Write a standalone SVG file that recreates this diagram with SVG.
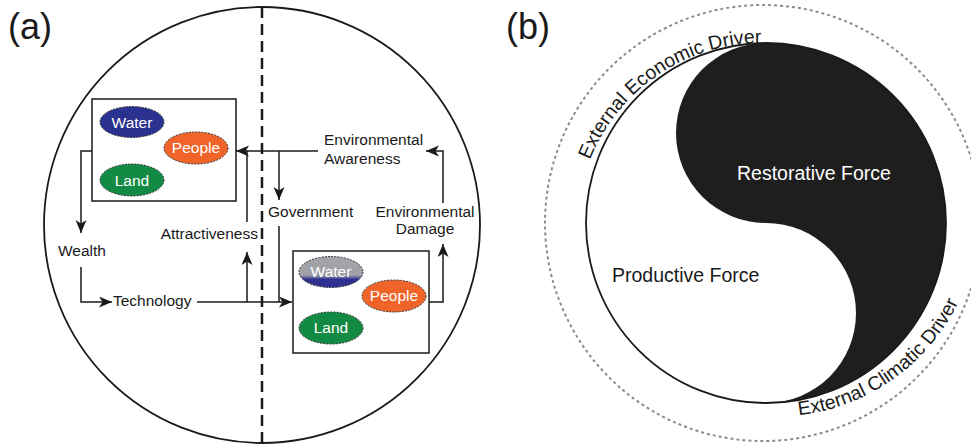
<svg xmlns="http://www.w3.org/2000/svg" width="971" height="445" viewBox="0 0 971 445">
<style>
text{font-family:"Liberation Sans",Arial,sans-serif;fill:#1a1a1a}
.lbl{font-size:15.5px}
.in{font-size:15.5px;fill:#fff;text-anchor:middle}
.big{font-size:19.5px}
.panel{font-size:36px}
.box{fill:#fff;stroke:#1a1a1a;stroke-width:1.5}
.ell{stroke:#333;stroke-width:1;stroke-dasharray:2 1.2}
.con{fill:none;stroke:#1a1a1a;stroke-width:1.5}
</style>
<defs>
<marker id="ah" markerUnits="userSpaceOnUse" markerWidth="14" markerHeight="12" refX="13" refY="5.5" orient="auto">
<path d="M0,0 L13,5.5 L0,11 L3.5,5.5 Z" fill="#1a1a1a"/>
</marker>
<linearGradient id="wg" x1="0" y1="0" x2="0" y2="1">
<stop offset="0" stop-color="#a4a4aa"/>
<stop offset="0.6" stop-color="#a0a0a8"/>
<stop offset="0.74" stop-color="#2e3192"/>
<stop offset="1" stop-color="#2e3192"/>
</linearGradient>
<path id="arcTop" d="M590,159.9 A185 185 0 0 1 825.3,54.2"/>
<path id="arcBot" d="M798.9,415.2 A202.5 202.5 0 0 0 975.4,249.2"/>
</defs>

<!-- Panel (a) -->
<g id="panel-a">
<text class="panel" x="8" y="39">(a)</text>
<circle cx="262" cy="225" r="218" fill="none" stroke="#1a1a1a" stroke-width="1.8"/>
<line x1="262" y1="7" x2="262" y2="443" stroke="#1a1a1a" stroke-width="2.5" stroke-dasharray="11 6"/>
</g>

<g id="connectors">
<path class="con" d="M92,151 H81 V233" marker-end="url(#ah)"/>
<path class="con" d="M81,267 V302 H112" marker-end="url(#ah)"/>
<path class="con" d="M197,302 H292" marker-end="url(#ah)"/>
<path class="con" d="M247,302 V252" marker-end="url(#ah)"/>
<path class="con" d="M318,151 H236" marker-end="url(#ah)"/>
<path class="con" d="M247,222 V151"/>
<path class="con" d="M279,151 V200" marker-end="url(#ah)"/>
<path class="con" d="M279,226 V302"/>
<path class="con" d="M429,302 H443 V244" marker-end="url(#ah)"/>
<path class="con" d="M443,203 V151 H426" marker-end="url(#ah)"/>
</g>

<g id="box-left">
<rect class="box" x="92" y="99" width="144" height="102"/>
<ellipse class="ell" cx="132" cy="122" rx="32" ry="15.5" fill="#2b318f"/>
<text class="in" x="132" y="128">Water</text>
<ellipse class="ell" cx="196" cy="148" rx="32" ry="16" fill="#f0642a"/>
<text class="in" x="196" y="153">People</text>
<ellipse class="ell" cx="132" cy="180" rx="32" ry="16" fill="#138a43"/>
<text class="in" x="132" y="186">Land</text>
</g>

<g id="box-right">
<rect class="box" x="293" y="251" width="136" height="102"/>
<ellipse class="ell" cx="331" cy="272" rx="32" ry="15.5" fill="url(#wg)"/>
<text class="in" x="331" y="277">Water</text>
<ellipse class="ell" cx="394" cy="296" rx="32" ry="16" fill="#f0642a"/>
<text class="in" x="394" y="301">People</text>
<ellipse class="ell" cx="331" cy="328" rx="32" ry="16" fill="#138a43"/>
<text class="in" x="331" y="333">Land</text>
</g>

<g id="wealth"><text class="lbl" x="58" y="256">Wealth</text></g>
<g id="technology"><text class="lbl" x="113" y="306">Technology</text></g>
<g id="attractiveness"><text class="lbl" x="258" y="239" text-anchor="end">Attractiveness</text></g>
<g id="government"><text class="lbl" x="268" y="217">Government</text></g>
<g id="env-awareness"><text class="lbl" x="324" y="144.5">Environmental</text><text class="lbl" x="324" y="163.5">Awareness</text></g>
<g id="env-damage"><text class="lbl" x="425" y="217" text-anchor="middle">Environmental</text><text class="lbl" x="425" y="234" text-anchor="middle">Damage</text></g>

<!-- Panel (b) -->
<g id="panel-b">
<text class="panel" x="506" y="39">(b)</text>
<circle cx="763" cy="223" r="218" fill="none" stroke="#8c8c8c" stroke-width="2" stroke-dasharray="3 3"/>
</g>
<g id="yinyang">
<circle cx="766" cy="223" r="180" fill="#fff"/>
<path d="M766,43 A180 180 0 0 1 766,403 A90 90 0 0 0 766,223 A90 90 0 0 1 766,43 Z" fill="#1e1e1e"/>
<circle cx="766" cy="223" r="180" fill="none" stroke="#1a1a1a" stroke-width="1.8"/>
</g>
<g id="restorative"><text class="big" x="737" y="180" style="fill:#fff">Restorative Force</text></g>
<g id="productive"><text class="big" x="612" y="281.5">Productive Force</text></g>
<g id="economic-driver"><text class="big"><textPath href="#arcTop">External Economic Driver</textPath></text></g>
<g id="climatic-driver"><text class="big"><textPath href="#arcBot">External Climatic Driver</textPath></text></g>
</svg>
